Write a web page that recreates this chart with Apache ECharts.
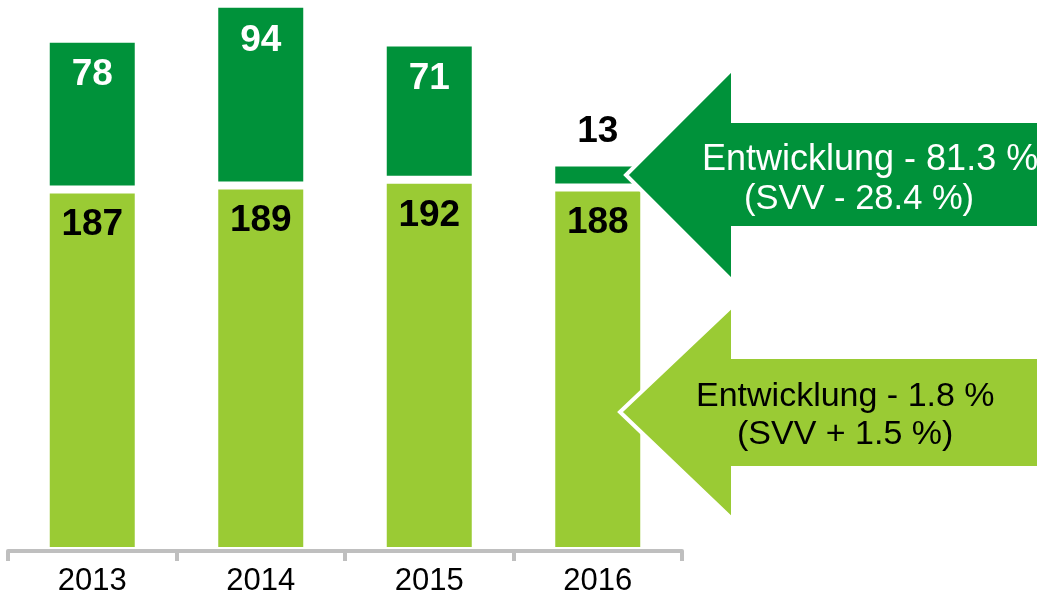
<!DOCTYPE html>
<html>
<head>
<meta charset="utf-8">
<script src="https://cdn.jsdelivr.net/npm/echarts@6/dist/echarts.min.js"></script>
<style>
  html, body { margin: 0; padding: 0; background: #fff; }
  #chart { width: 1037px; height: 595px; }
</style>
</head>
<body>
<div id="chart"></div>
<script>
var years = ["2013", "2014", "2015", "2016"];
var baseValues = [187, 189, 192, 188];
var devValues = [78, 94, 71, 13];
var darkArrowText = ["Entwicklung - 81.3 %", "(SVV - 28.4 %)"];
var lightArrowText = ["Entwicklung - 1.8 %", "(SVV + 1.5 %)"];

var darkGreen = "#00923A";
var lightGreen = "#9ACB34";
var font = "'Liberation Sans', Arial, sans-serif";

// small top segments get their label above the bar, in black
var devData = devValues.map(function (v) {
  if (v < 20) {
    return {
      value: v,
      label: { position: "top", distance: 12, color: "#000" },
    };
  }
  return v;
});

var chart = echarts.init(document.getElementById("chart"));
chart.setOption({
  animation: false,
  grid: { left: 8, right: 355, top: 0, bottom: 44, outerBoundsMode: "none", containLabel: false },
  xAxis: {
    type: "category",
    data: years,
    z: 5,
    axisLine: { lineStyle: { color: "#BFBFBF", width: 4 } },
    axisTick: { show: true, length: 10, lineStyle: { color: "#BFBFBF", width: 4 } },
    axisLabel: { color: "#000", fontSize: 31, margin: 15, fontFamily: font },
  },
  yAxis: {
    type: "value",
    min: 0,
    max: 285,
    show: false,
    splitLine: { show: false },
  },
  series: [
    {
      type: "bar",
      stack: "total",
      barWidth: 93,
      data: baseValues,
      itemStyle: { color: lightGreen, borderColor: "#fff", borderWidth: 4 },
      label: {
        show: true,
        position: "insideTop",
        distance: 17,
        color: "#000",
        fontSize: 37,
        fontWeight: "bold",
        fontFamily: font,
      },
    },
    {
      type: "bar",
      stack: "total",
      barWidth: 93,
      data: devData,
      itemStyle: { color: darkGreen, borderColor: "#fff", borderWidth: 4 },
      label: {
        show: true,
        position: "insideTop",
        distance: 18,
        color: "#fff",
        fontSize: 37,
        fontWeight: "bold",
        fontFamily: font,
      },
    },
  ],
  graphic: [
    {
      type: "polygon",
      z: 100,
      shape: {
        points: [[1045, 121], [733, 121], [733, 68], [626, 175], [733, 282], [733, 228], [1045, 228]],
      },
      style: { fill: darkGreen, stroke: "#fff", lineWidth: 4 },
    },
    {
      type: "text",
      z: 101,
      left: 702,
      top: 142,
      style: { text: darkArrowText[0], fill: "#fff", fontSize: 36, fontFamily: font },
    },
    {
      type: "text",
      z: 101,
      left: 744,
      top: 182,
      style: { text: darkArrowText[1], fill: "#fff", fontSize: 34.5, fontFamily: font },
    },
    {
      type: "polygon",
      z: 100,
      shape: {
        points: [[1045, 357], [733, 357], [733, 305], [620, 412], [733, 520], [733, 468], [1045, 468]],
      },
      style: { fill: lightGreen, stroke: "#fff", lineWidth: 4 },
    },
    {
      type: "text",
      z: 101,
      left: 696,
      top: 380,
      style: { text: lightArrowText[0], fill: "#000", fontSize: 34, fontFamily: font },
    },
    {
      type: "text",
      z: 101,
      left: 737,
      top: 418,
      style: { text: lightArrowText[1], fill: "#000", fontSize: 34, fontFamily: font },
    },
  ],
});
</script>
</body>
</html>
